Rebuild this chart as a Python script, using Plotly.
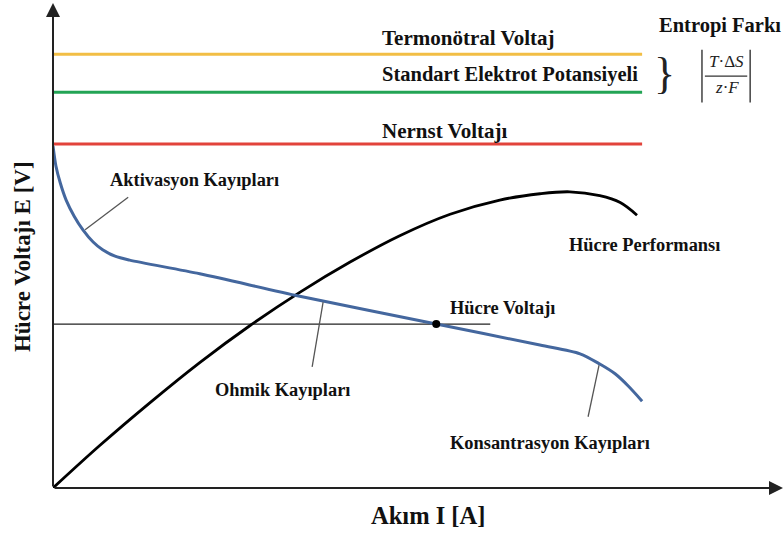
import plotly.graph_objects as go

# ---- coordinate system: current I (x, 0..10), voltage E (y, 0..10), schematic units ----
X_RANGE = [0, 10]
Y_RANGE = [0, 10]

# reference voltage levels
level_names = ["Termonötral Voltaj", "Standart Elektrot Potansiyeli", "Nernst Voltajı"]
level_values = [8.89, 8.11, 7.05]
level_colors = ["#F2BE45", "#23A455", "#E2433B"]
level_x_end = 8.07

# polarisation curve (cell voltage)
v_current = [0.00, 0.04, 0.10, 0.18, 0.29, 0.41, 0.55, 0.68, 0.85, 1.05,
             2.01, 3.38, 5.25, 6.67, 7.22, 7.49, 7.70, 7.88, 8.07]
v_voltage = [7.01, 6.60, 6.25, 5.90, 5.57, 5.29, 5.04, 4.88, 4.75, 4.67,
             4.39, 3.93, 3.36, 2.93, 2.75, 2.54, 2.34, 2.09, 1.78]

# performance (power) curve
p_current = [0.00, 0.64, 1.33, 2.01, 2.70, 3.38, 4.07, 4.75, 5.44, 6.12,
             6.67, 7.08, 7.49, 7.77, 8.00]
p_power = [0.00, 0.87, 1.75, 2.57, 3.33, 4.01, 4.63, 5.17, 5.61, 5.90,
           6.03, 6.07, 5.99, 5.85, 5.59]

# operating point
op_current = 5.25
op_voltage = 3.36
op_line_end = 5.99

# leader lines (label -> curve)
leaders = {
    "Aktivasyon Kayıpları": ([1.03, 0.44], [5.96, 5.29]),
    "Ohmik Kayıpları": ([3.70, 3.55], [3.81, 2.48]),
    "Konsantrasyon Kayıpları": ([7.48, 7.33], [2.52, 1.46]),
}

# labels: (text, x, y, size)
labels = [
    ("Termonötral Voltaj", 4.48, 9.22, 21),
    ("Standart Elektrot Potansiyeli", 4.48, 8.48, 20.5),
    ("Nernst Voltajı", 4.48, 7.32, 21),
    ("Aktivasyon Kayıpları", 0.75, 6.31, 18.4),
    ("Hücre Performansı", 7.04, 4.98, 18.4),
    ("Hücre Voltajı", 5.41, 3.69, 18.4),
    ("Ohmik Kayıpları", 2.19, 2.01, 18.4),
    ("Konsantrasyon Kayıpları", 5.41, 0.92, 18.4),
    ("Entropi Farkı", 8.27, 9.47, 20.5),
]

x_title = "Akım I [A]"
y_title = "Hücre Voltajı E [V]"

FONT = "Times New Roman, Liberation Serif, DejaVu Serif, serif"

fig = go.Figure()

for name, val, col in zip(level_names, level_values, level_colors):
    fig.add_trace(go.Scatter(x=[0, level_x_end], y=[val, val], mode="lines",
                             line=dict(color=col, width=3), hoverinfo="skip"))

fig.add_trace(go.Scatter(x=[0, op_line_end], y=[op_voltage, op_voltage], mode="lines",
                         line=dict(color="#222222", width=1.3), hoverinfo="skip"))

fig.add_trace(go.Scatter(x=p_current, y=p_power, mode="lines",
                         line=dict(color="#000000", width=2.8, shape="spline", smoothing=1.0),
                         hoverinfo="skip"))

fig.add_trace(go.Scatter(x=v_current, y=v_voltage, mode="lines",
                         line=dict(color="#44679E", width=3, shape="spline", smoothing=0.8),
                         hoverinfo="skip"))

for name, (lx, ly) in leaders.items():
    fig.add_trace(go.Scatter(x=lx, y=ly, mode="lines",
                             line=dict(color="#555555", width=1.3), hoverinfo="skip"))

fig.add_trace(go.Scatter(x=[op_current], y=[op_voltage], mode="markers",
                         marker=dict(color="#000000", size=8), hoverinfo="skip"))

annotations = []
for text, x, y, size in labels:
    annotations.append(dict(x=x, y=y, xref="x", yref="y", text="<b>" + text + "</b>",
                            showarrow=False, xanchor="left", yanchor="middle",
                            font=dict(family=FONT, size=size, color="#111111")))

# axes with arrows
annotations.append(dict(x=X_RANGE[1], y=0, ax=0, ay=0, xref="x", yref="y",
                        axref="x", ayref="y", text="", showarrow=True,
                        arrowhead=2, arrowsize=1.4, arrowwidth=2, arrowcolor="#222222"))
annotations.append(dict(x=0, y=Y_RANGE[1] - 0.06, ax=0, ay=0, xref="x", yref="y",
                        axref="x", ayref="y", text="", showarrow=True,
                        arrowhead=2, arrowsize=1.4, arrowwidth=2, arrowcolor="#222222"))

# axis titles (paper coordinates, outside the axis ranges)
annotations.append(dict(x=0.514, y=-0.056, xref="paper", yref="paper",
                        xanchor="center", yanchor="middle",
                        text="<b>" + x_title + "</b>", showarrow=False,
                        font=dict(family=FONT, size=24.5, color="#111111")))
annotations.append(dict(x=-0.042, y=0.474, xref="paper", yref="paper",
                        xanchor="center", yanchor="middle",
                        text="<b>" + y_title + "</b>", showarrow=False, textangle=-90,
                        font=dict(family=FONT, size=23, color="#111111")))

# entropy expression
annotations.append(dict(x=8.38, y=8.50, xref="x", yref="y", text="}", showarrow=False,
                        font=dict(family=FONT, size=44, color="#222222")))
annotations.append(dict(x=9.23, y=8.74, xref="x", yref="y", text="<i>T</i>·Δ<i>S</i>",
                        showarrow=False, font=dict(family=FONT, size=17, color="#222222")))
annotations.append(dict(x=9.23, y=8.20, xref="x", yref="y", text="<i>z</i>·<i>F</i>",
                        showarrow=False, font=dict(family=FONT, size=17, color="#222222")))

frac_bar_x = [8.93, 9.51]
frac_bar_y = 8.44
abs_bar_x = [8.89, 9.55]
abs_bar_y = [7.90, 8.98]

shapes = [dict(type="line", xref="x", yref="y", x0=frac_bar_x[0], x1=frac_bar_x[1],
               y0=frac_bar_y, y1=frac_bar_y, line=dict(color="#333333", width=1.2))]
for bx in abs_bar_x:
    shapes.append(dict(type="line", xref="x", yref="y", x0=bx, x1=bx,
                       y0=abs_bar_y[0], y1=abs_bar_y[1], line=dict(color="#333333", width=1.4)))

fig.update_layout(
    width=783, height=533,
    margin=dict(l=53, r=0, t=0, b=45),
    paper_bgcolor="white", plot_bgcolor="white",
    showlegend=False,
    xaxis=dict(range=X_RANGE, visible=False, fixedrange=True),
    yaxis=dict(range=Y_RANGE, visible=False, fixedrange=True),
    annotations=annotations,
    shapes=shapes,
)

fig.write_html("out.html", config={"displayModeBar": False},
               post_script="document.body.style.margin='0';")
